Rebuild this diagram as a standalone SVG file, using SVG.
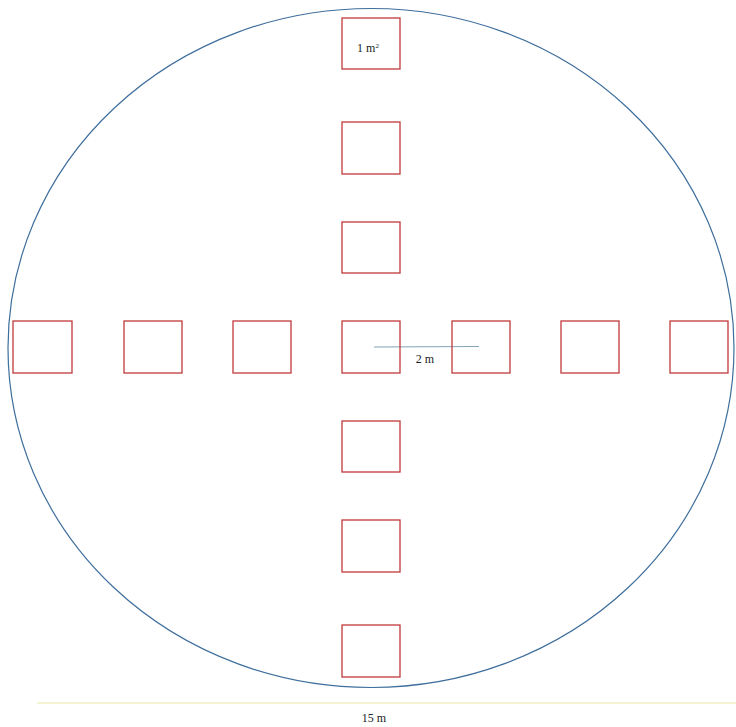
<svg xmlns="http://www.w3.org/2000/svg" width="736" height="727" viewBox="0 0 736 727">
<style>
.sq{fill:none;stroke:#c0393b;stroke-width:1.3}
.t{font-family:"Liberation Serif",serif;font-size:12px;fill:#222;text-anchor:middle}
</style>
<rect width="736" height="727" fill="#fff"/>
<g id="field"><ellipse cx="371" cy="348" rx="363" ry="339.5" fill="none" stroke="#3e6e9c" stroke-width="1.2"/></g>
<g id="connectors">
<line x1="374" y1="347" x2="479" y2="346.5" stroke="#7fa3b8" stroke-width="1"/>
<line x1="37" y1="703" x2="736" y2="703" stroke="#f3efc6" stroke-width="1.5"/>
</g>
<g id="sq-top1"><rect class="sq" x="342" y="18" width="58" height="51"/><text class="t" x="368" y="52">1 m<tspan font-size="7" dy="-4">2</tspan></text></g>
<g id="sq-top2"><rect class="sq" x="342" y="122" width="58" height="52"/></g>
<g id="sq-top3"><rect class="sq" x="342" y="222" width="58" height="51"/></g>
<g id="sq-l1"><rect class="sq" x="13" y="321" width="59" height="52"/></g>
<g id="sq-l2"><rect class="sq" x="124" y="321" width="58" height="52"/></g>
<g id="sq-l3"><rect class="sq" x="233" y="321" width="58" height="52"/></g>
<g id="sq-center"><rect class="sq" x="342" y="321" width="58" height="52"/></g>
<g id="sq-r1"><rect class="sq" x="452" y="321" width="58" height="52"/></g>
<g id="sq-r2"><rect class="sq" x="561" y="321" width="58" height="52"/></g>
<g id="sq-r3"><rect class="sq" x="670" y="321" width="58" height="52"/></g>
<g id="sq-b1"><rect class="sq" x="342" y="421" width="58" height="51"/></g>
<g id="sq-b2"><rect class="sq" x="342" y="520" width="58" height="52"/></g>
<g id="sq-b3"><rect class="sq" x="342" y="625" width="58" height="52"/></g>
<g id="labels">
<text class="t" x="425" y="363">2 m</text>
<text class="t" x="374" y="722">15 m</text>
</g>
</svg>
